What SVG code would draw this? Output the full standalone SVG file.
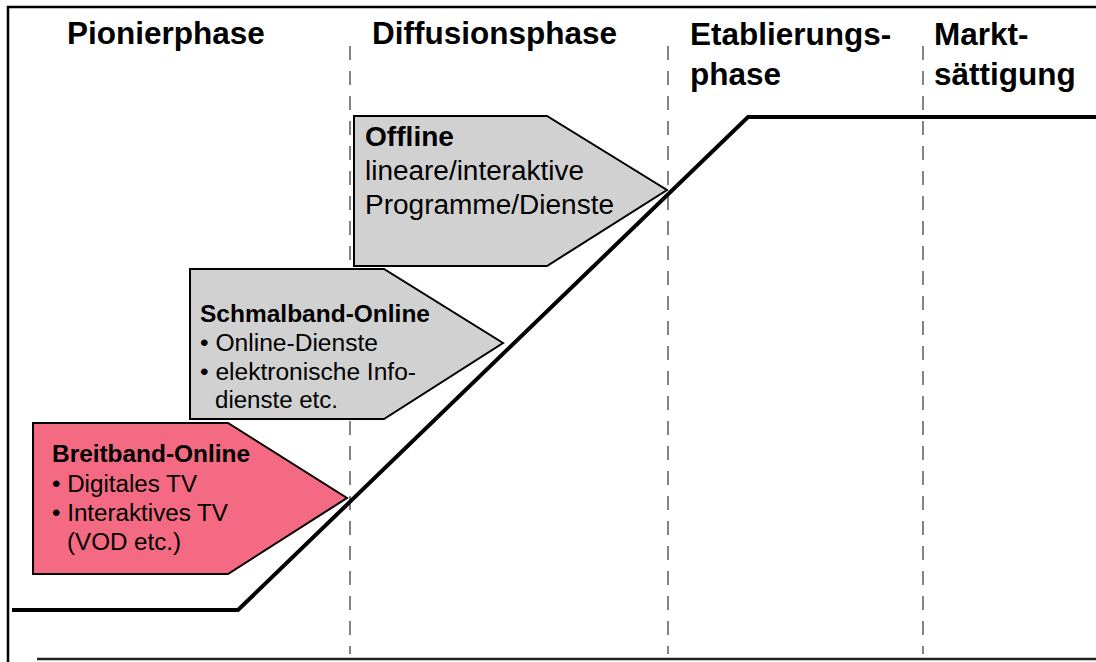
<svg xmlns="http://www.w3.org/2000/svg" width="1096" height="662" viewBox="0 0 1096 662">
  <style>
    .head { font-family: "Liberation Sans", Arial, sans-serif; font-weight: bold; font-size: 31.5px; fill: #000; }
    .t { font-family: "Liberation Sans", Arial, sans-serif; fill: #000; }
    .b { font-weight: bold; }
    .phase-sep { stroke: #333; stroke-width: 1.2; stroke-dasharray: 14 11; fill: none; }
    .arrow-grey { fill: #d1d1d1; stroke: #000; stroke-width: 2; }
    .arrow-pink { fill: #f36a82; stroke: #000; stroke-width: 2; }
    .curve { fill: none; stroke: #000; stroke-width: 4; stroke-linejoin: miter; }
  </style>

  <rect width="1096" height="662" fill="#fff"/>

  <!-- frame -->
  <g id="frame" fill="none">
    <polyline points="8,662 8,7 1096,7" stroke="#000" stroke-width="2.5"/>
    <line x1="37" y1="659" x2="1096" y2="659" stroke="#222" stroke-width="2.5"/>
  </g>

  <!-- phase separators -->
  <g id="separators">
    <line class="phase-sep" x1="350" y1="46" x2="350" y2="654"/>
    <line class="phase-sep" x1="668" y1="46" x2="668" y2="654"/>
    <line class="phase-sep" x1="923" y1="46" x2="923" y2="654"/>
  </g>

  <!-- phase headings -->
  <g id="headings">
    <text class="head" x="67" y="44">Pionierphase</text>
    <text class="head" x="372" y="44">Diffusionsphase</text>
    <text class="head" x="690" y="45">Etablierungs-</text>
    <text class="head" x="690" y="85">phase</text>
    <text class="head" x="934" y="45">Markt-</text>
    <text class="head" x="934" y="85">sättigung</text>
  </g>

  <g id="offline">
    <polygon class="arrow-grey" points="354,116 547,116 667,190 547,266 354,266"/>
    <text class="t b" font-size="27" x="365" y="146" textLength="89" lengthAdjust="spacingAndGlyphs">Offline</text>
    <text class="t" font-size="27" x="365" y="180" textLength="219" lengthAdjust="spacingAndGlyphs">lineare/interaktive</text>
    <text class="t" font-size="27" x="365" y="214" textLength="249" lengthAdjust="spacingAndGlyphs">Programme/Dienste</text>
  </g>

  <g id="schmalband">
    <polygon class="arrow-grey" points="190,269 384,269 503,343 384,419 190,419"/>
    <text class="t b" font-size="23.5" x="200" y="322" textLength="230" lengthAdjust="spacingAndGlyphs">Schmalband-Online</text>
    <text class="t" font-size="23.5" x="200" y="351" textLength="178" lengthAdjust="spacingAndGlyphs">• Online-Dienste</text>
    <text class="t" font-size="23.5" x="200" y="380" textLength="216" lengthAdjust="spacingAndGlyphs">• elektronische Info-</text>
    <text class="t" font-size="23.5" x="215" y="408" textLength="123" lengthAdjust="spacingAndGlyphs">dienste etc.</text>
  </g>

  <g id="breitband">
    <polygon class="arrow-pink" points="33,423 228,423 347,498 228,574 33,574"/>
    <text class="t b" font-size="23.5" x="52" y="462" textLength="198" lengthAdjust="spacingAndGlyphs">Breitband-Online</text>
    <text class="t" font-size="23.5" x="52" y="492" textLength="145" lengthAdjust="spacingAndGlyphs">• Digitales TV</text>
    <text class="t" font-size="23.5" x="52" y="521" textLength="176" lengthAdjust="spacingAndGlyphs">• Interaktives TV</text>
    <text class="t" font-size="23.5" x="67" y="550" textLength="114" lengthAdjust="spacingAndGlyphs">(VOD etc.)</text>
  </g>

  <!-- diffusion curve -->
  <g id="connectors">
    <polyline class="curve" points="12,610 238,610 748,117 1096,117"/>
  </g>
</svg>
